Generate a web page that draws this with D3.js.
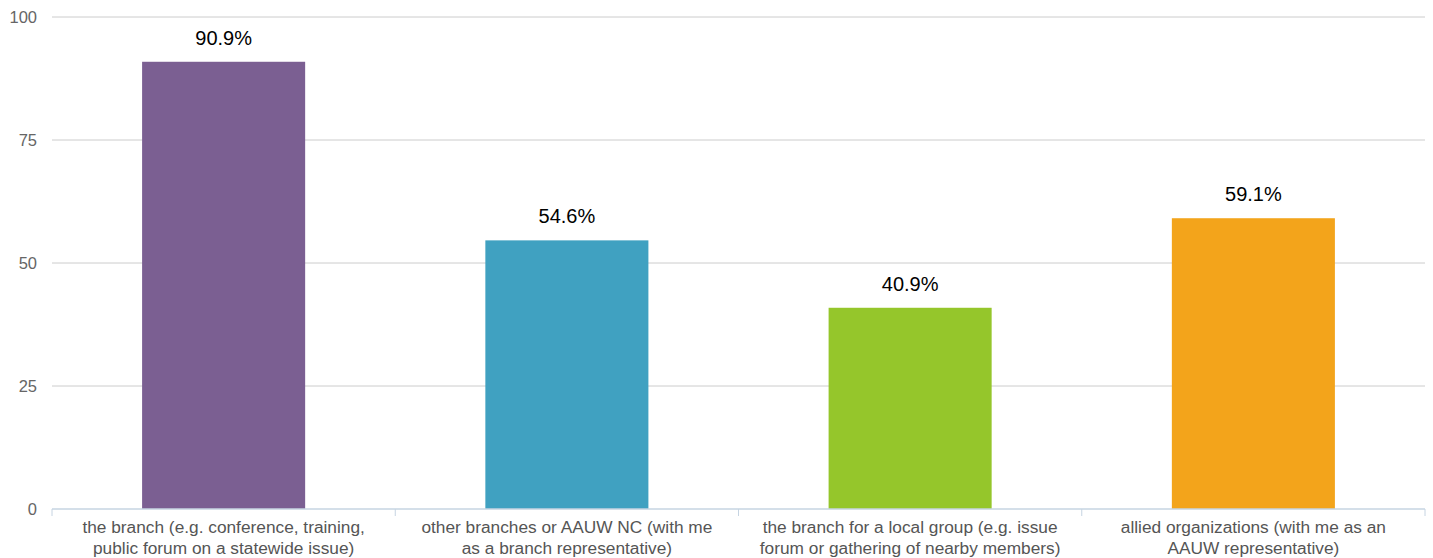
<!DOCTYPE html>
<html>
<head>
<meta charset="utf-8">
<script src="https://cdn.jsdelivr.net/npm/d3@7"></script>
<style>
  body { margin: 0; background: #fff; }
  svg { display: block; font-family: "Liberation Sans", Arial, sans-serif; }
</style>
</head>
<body>
<svg id="svg" width="1433" height="558"></svg>
<script>
// survey chart: where members took part
const categories = [
  ["the branch (e.g. conference, training,", "public forum on a statewide issue)"],
  ["other branches or AAUW NC (with me", "as a branch representative)"],
  ["the branch for a local group (e.g. issue", "forum or gathering of nearby members)"],
  ["allied organizations (with me as an", "AAUW representative)"],
];
const values = [90.9, 54.6, 40.9, 59.1];
const colors = ["#7b5f92", "#40a1c1", "#95c62b", "#f3a41b"];
const yTicks = [0, 25, 50, 75, 100];

const margin = { top: 17, right: 8, bottom: 49, left: 52 };
const width = 1433, height = 558;

const svg = d3.select("#svg");

const x = d3.scaleBand()
  .domain(d3.range(categories.length))
  .range([margin.left, width - margin.right])
  .paddingInner(0.525).paddingOuter(0.2625);

const y = d3.scaleLinear()
  .domain([0, 100])
  .range([height - margin.bottom, margin.top]);

// grid lines
svg.append("g").selectAll("line")
  .data(yTicks.filter(d => d > 0)).enter().append("line")
  .attr("x1", margin.left).attr("x2", width - margin.right)
  .attr("y1", d => y(d)).attr("y2", d => y(d))
  .attr("stroke", "#cccccc").attr("stroke-width", 1);

// y tick labels
svg.append("g").selectAll("text")
  .data(yTicks).enter().append("text")
  .attr("x", 37).attr("y", d => y(d))
  .attr("dy", "0.35em")
  .attr("text-anchor", "end")
  .attr("font-size", 16.5).attr("fill", "#666")
  .text(d => d);

// bars
svg.append("g").selectAll("rect")
  .data(values).enter().append("rect")
  .attr("x", (d, i) => x(i))
  .attr("width", x.bandwidth())
  .attr("y", d => y(d))
  .attr("height", d => y(0) - y(d))
  .attr("fill", (d, i) => colors[i]);

// value labels
svg.append("g").selectAll("text")
  .data(values).enter().append("text")
  .attr("x", (d, i) => x(i) + x.bandwidth() / 2)
  .attr("y", d => y(d) - 17)
  .attr("text-anchor", "middle")
  .attr("font-size", 20).attr("fill", "#000")
  .text(d => d.toFixed(1) + "%");

// baseline + category separators
const base = y(0);
svg.append("line")
  .attr("x1", margin.left).attr("x2", width - margin.right)
  .attr("y1", base).attr("y2", base)
  .attr("stroke", "#c6d4e2").attr("stroke-width", 1.5);

const step = x.step();
svg.append("g").selectAll("line")
  .data(d3.range(categories.length + 1)).enter().append("line")
  .attr("x1", i => margin.left + i * step).attr("x2", i => margin.left + i * step)
  .attr("y1", base).attr("y2", base + 7)
  .attr("stroke", "#c6d4e2").attr("stroke-width", 1);

// category labels
const cat = svg.append("g").selectAll("text")
  .data(categories).enter().append("text")
  .attr("x", (d, i) => x(i) + x.bandwidth() / 2)
  .attr("y", base + 24)
  .attr("text-anchor", "middle")
  .attr("font-size", 17.3).attr("fill", "#555");
cat.selectAll("tspan")
  .data((d, i) => d.map(t => ({ t, i }))).enter().append("tspan")
  .attr("x", d => x(d.i) + x.bandwidth() / 2)
  .attr("dy", (d, j) => j === 0 ? 0 : 21)
  .text(d => d.t);
</script>
</body>
</html>
